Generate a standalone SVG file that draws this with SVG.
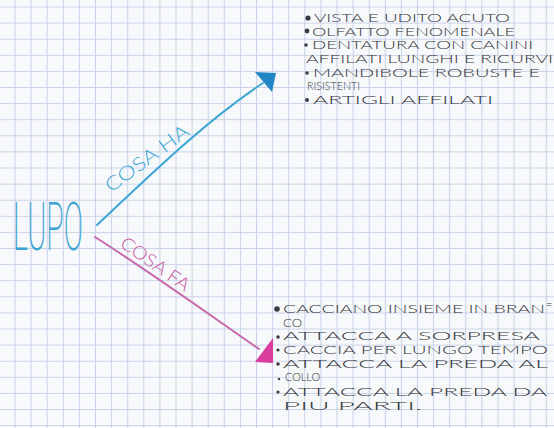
<svg xmlns="http://www.w3.org/2000/svg" width="554" height="428" viewBox="0 0 554 428">
<style>
.hand{font-family:Lato,Roboto,"Liberation Sans",sans-serif;font-weight:300;font-size:11px;fill:#34353b}
.blue{stroke:#3aa6d6;stroke-width:2;fill:none;stroke-linecap:round}
.pink{stroke:#c868aa;stroke-width:2;fill:none;stroke-linecap:round}
.dot{fill:#3a3b40}
</style>
<defs>
<pattern id="grid" patternUnits="userSpaceOnUse" x="6.95" y="-1.05" width="16.1" height="16.1">
<path d="M8.05 0V16.1M0 8.05H16.1" stroke="#c8d2e8" stroke-width="1.1" fill="none"/>
</pattern>
</defs>
<rect width="554" height="428" fill="#f8f9fc"/>
<rect width="554" height="428" fill="url(#grid)"/>

<g id="lupo">
<text x="13" y="250" font-family="Roboto,Lato,Inter,sans-serif" font-weight="200" font-size="66" fill="#3aa3d4" textLength="70" lengthAdjust="spacingAndGlyphs">LUPO</text>
</g>

<g id="connectors">
<path class="blue" d="M97 225 C140 185 200 125 263 83"/>
<polygon points="255,72 276,73 272,92" fill="#2286c6"/>
<text transform="translate(111,193) rotate(-36.5)" font-family="Lato,Roboto,sans-serif" font-weight="300" font-size="19" fill="#3aa6d6" textLength="99" lengthAdjust="spacingAndGlyphs">COSA  HA</text>
<path class="pink" d="M95 237 C150 272 210 315 259 349"/>
<polygon points="273,338 273,363 255,362" fill="#d93c9c"/>
<text transform="translate(119,246) rotate(35)" font-family="Lato,Roboto,sans-serif" font-weight="300" font-size="18" fill="#c855a0" textLength="80" lengthAdjust="spacingAndGlyphs">COSA FA</text>
</g>

<g id="cosa-ha-list">
<circle class="dot" cx="308" cy="18" r="2.6"/>
<text class="hand" x="314" y="22" textLength="196" lengthAdjust="spacingAndGlyphs">VISTA E UDITO ACUTO</text>
<circle class="dot" cx="307" cy="31" r="2.4"/>
<text class="hand" x="312" y="35.5" textLength="203" lengthAdjust="spacingAndGlyphs">OLFATTO FENOMENALE</text>
<circle class="dot" cx="306" cy="45" r="1.8"/>
<text class="hand" x="312" y="49" textLength="221" lengthAdjust="spacingAndGlyphs">DENTATURA CON CANINI</text>
<text class="hand" x="306" y="62.5" textLength="247" lengthAdjust="spacingAndGlyphs">AFFILATI LUNGHI E RICURVI</text>
<circle class="dot" cx="307" cy="73" r="1.8"/>
<text class="hand" x="313" y="76.5" textLength="227" lengthAdjust="spacingAndGlyphs">MANDIBOLE ROBUSTE E</text>
<text class="hand" x="307" y="90" font-size="10" textLength="53" lengthAdjust="spacingAndGlyphs">RISISTENTI</text>
<circle class="dot" cx="307" cy="100" r="2"/>
<text class="hand" x="313" y="103.5" textLength="180" lengthAdjust="spacingAndGlyphs">ARTIGLI AFFILATI</text>
</g>

<g id="cosa-fa-list">
<circle class="dot" cx="277" cy="309" r="2.8"/>
<text class="hand" x="283" y="313" textLength="262" lengthAdjust="spacingAndGlyphs">CACCIANO INSIEME IN BRAN</text>
<text class="hand" x="546" y="309" font-size="8">=</text>
<text class="hand" x="283" y="326.5" textLength="19" lengthAdjust="spacingAndGlyphs">CO</text>
<circle class="dot" cx="278" cy="337" r="1.8"/>
<text class="hand" x="283" y="340" textLength="257" lengthAdjust="spacingAndGlyphs">ATTACCA A SORPRESA</text>
<circle class="dot" cx="278" cy="350" r="1.6"/>
<text class="hand" x="283" y="353.5" textLength="265" lengthAdjust="spacingAndGlyphs">CACCIA PER LUNGO TEMPO</text>
<circle class="dot" cx="278" cy="364" r="1.8"/>
<text class="hand" x="283" y="367.5" textLength="265" lengthAdjust="spacingAndGlyphs">ATTACCA LA PREDA AL</text>
<circle class="dot" cx="279" cy="379" r="1.2"/>
<text class="hand" x="285" y="381" textLength="35" lengthAdjust="spacingAndGlyphs">COLLO</text>
<circle class="dot" cx="278" cy="392" r="1.6"/>
<text class="hand" x="283" y="395.5" textLength="264" lengthAdjust="spacingAndGlyphs">ATTACCA LA PREDA DA</text>
<text class="hand" x="283" y="410" textLength="139" lengthAdjust="spacingAndGlyphs">PIU PARTI.</text>
</g>
</svg>
